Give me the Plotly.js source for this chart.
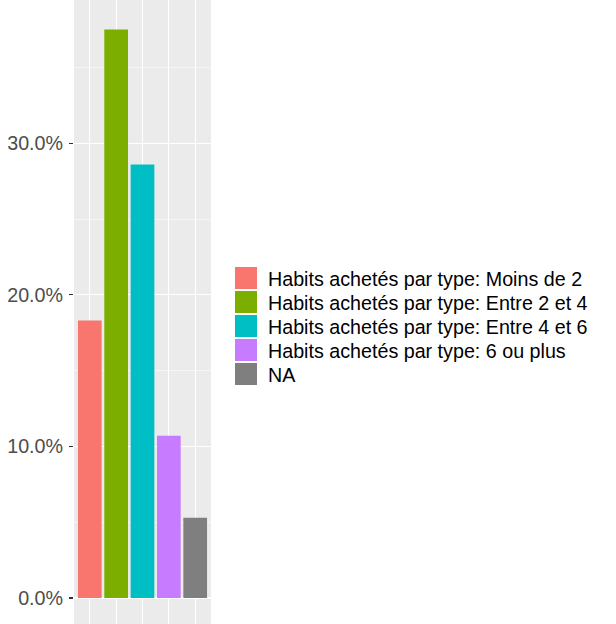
<!DOCTYPE html>
<html>
<head>
<meta charset="utf-8">
<script src="https://cdn.plot.ly/plotly-3.0.1.min.js"></script>
<style>
html,body{margin:0;padding:0;background:#fff;}
#chart{width:616px;height:624px;}
</style>
</head>
<body>
<div id="chart"></div>
<script>
var categories = ["Habits achetés par type: Moins de 2", "Habits achetés par type: Entre 2 et 4", "Habits achetés par type: Entre 4 et 6", "Habits achetés par type: 6 ou plus", "NA"];
var shares = [0.183, 0.375, 0.286, 0.107, 0.053];
var colors = ["#F8766D", "#7CAE00", "#00BFC4", "#C77CFF", "#7F7F7F"];
var yTickVals = [0, 0.1, 0.2, 0.3];

var W = 616, H = 624;
var panelL = 74, panelW = 137;
function px2x(px){ return (px - panelL) / panelW; }
function py2y(py){ return (H - py) / H; }

var traces = categories.map(function(c, i){
  return {
    type: "bar",
    x: [i + 1],
    y: [shares[i]],
    name: c,
    width: 0.9,
    marker: {color: colors[i], line: {width: 0}},
    showlegend: false,
    hoverinfo: "skip"
  };
});

var shapes = [], annotations = [];
categories.forEach(function(c, i){
  var top = 267 + 24 * i;
  shapes.push({
    type: "rect", xref: "paper", yref: "paper",
    x0: px2x(235), x1: px2x(257), y0: py2y(top + 22), y1: py2y(top),
    fillcolor: colors[i], line: {width: 0}
  });
  annotations.push({
    xref: "paper", yref: "paper", x: px2x(265.5), y: py2y(top + 11.5),
    xanchor: "left", yanchor: "middle", showarrow: false, text: c,
    font: {family: "Liberation Sans, Arial, sans-serif", size: 19.7, color: "#000000"}
  });
});

var pxPerUnit = 15.16 / 0.01;
var r0 = -(H - 598) / pxPerUnit;
var r1 = r0 + H / pxPerUnit;

var layout = {
  width: W, height: H,
  margin: {l: panelL, r: W - panelL - panelW, t: 0, b: 0, pad: 0},
  paper_bgcolor: "#ffffff",
  plot_bgcolor: "#EBEBEB",
  showlegend: false,
  barmode: "overlay",
  font: {family: "Liberation Sans, Arial, sans-serif", size: 19.7, color: "#4D4D4D"},
  xaxis: {
    range: [0.4, 5.6], tickvals: [1, 2, 3, 4, 5], showticklabels: false,
    showgrid: true, gridcolor: "#FFFFFF", gridwidth: 1.1, zeroline: false, showline: false,
    ticks: ""
  },
  yaxis: {
    range: [r0, r1], tickvals: yTickVals, tickformat: ".1%",
    showgrid: true, gridcolor: "#FFFFFF", gridwidth: 1.1, zeroline: false, showline: false,
    ticks: "outside", ticklen: 4, tickwidth: 1.1, tickcolor: "#333333",
    ticklabelstandoff: 2,
    tickfont: {family: "Liberation Sans, Arial, sans-serif", size: 19.7, color: "#4D4D4D"},
    minor: {dtick: 0.05, tick0: 0.05, showgrid: true, gridcolor: "#FFFFFF", gridwidth: 0.55, ticks: ""}
  },
  shapes: shapes,
  annotations: annotations
};

Plotly.newPlot("chart", traces, layout, {displayModeBar: false, staticPlot: true});
</script>
</body>
</html>
